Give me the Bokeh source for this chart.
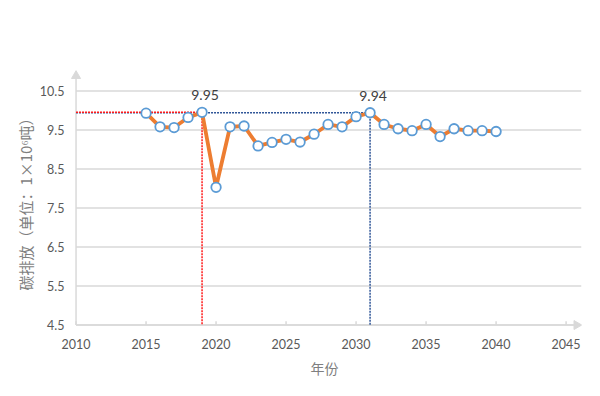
import math
from bokeh.plotting import figure
from bokeh.models import ColumnDataSource, Range1d, FixedTicker, Label
from bokeh.embed import file_html
from bokeh.resources import INLINE

# ---- data ----
years = list(range(2015, 2041))
emissions = [9.93, 9.58, 9.56, 9.82, 9.95, 8.03, 9.58, 9.60, 9.09, 9.18,
             9.26, 9.19, 9.39, 9.64, 9.58, 9.84, 9.94, 9.64, 9.53, 9.48,
             9.64, 9.33, 9.53, 9.48, 9.48, 9.46]
peak_years = [2019, 2031]
peak_values = [9.95, 9.94]
peak_labels = ["9.95", "9.94"]
peak_colors = ["#ff1a1a", "#2f5597"]
x_ticks = [2010, 2015, 2020, 2025, 2030, 2035, 2040, 2045]
y_ticks = [4.5, 5.5, 6.5, 7.5, 8.5, 9.5, 10.5]
x_title = "年份"
y_title = "碳排放（单位：1×10⁶吨）"
x_axis_min, x_axis_max = 2010, 2045.9
y_axis_min, y_axis_max = 4.5, 10.98
grid_end = 2046.1
tick_len = 0.1

AXIS_GREY = "#d9d9d9"
TICK_TXT = "#595959"
LABEL_TXT = "#7f7f7f"
FONT = "Lato"
CJK = "Noto Sans CJK SC"

p = figure(width=584, height=380, output_backend="svg", toolbar_location=None,
           x_range=Range1d(2009.39, 2046.1), y_range=Range1d(4.309, 11.074),
           min_border_left=67, min_border_right=3, min_border_top=68, min_border_bottom=47)
p.outline_line_color = None
p.background_fill_color = "white"
p.border_fill_color = "white"
p.xgrid.grid_line_color = None
p.ygrid.grid_line_color = None

# grid lines (start at the y axis)
p.segment(x0=[x_axis_min] * len(y_ticks), y0=y_ticks, x1=[grid_end] * len(y_ticks), y1=y_ticks,
          line_color=AXIS_GREY, line_width=1.5)

# axes (labels only; lines drawn as glyphs)
p.xaxis.ticker = FixedTicker(ticks=x_ticks)
p.yaxis.ticker = FixedTicker(ticks=y_ticks)
p.yaxis.major_label_overrides = {v: f"{v:.1f}" for v in y_ticks}
for ax in (p.xaxis[0], p.yaxis[0]):
    ax.axis_line_color = None
    ax.major_tick_line_color = None
    ax.minor_tick_line_color = None
    ax.major_tick_in = 0
    ax.major_tick_out = 0
    ax.major_label_text_color = TICK_TXT
    ax.major_label_text_font = FONT
    ax.major_label_text_font_size = "12.5px"
    ax.axis_label_text_color = LABEL_TXT
    ax.axis_label_text_font = CJK
    ax.axis_label_text_font_style = "normal"
p.xaxis.major_label_standoff = 6
p.yaxis.major_label_standoff = 3
p.xaxis.axis_label = x_title
p.xaxis.axis_label_text_font_size = "14px"
p.xaxis.axis_label_standoff = 6
p.yaxis.axis_label = y_title
p.yaxis.axis_label_text_font_size = "15px"
p.yaxis.axis_label_standoff = 1

# axis lines, inward ticks and arrow heads
p.line([x_axis_min, x_axis_min], [y_axis_min, y_axis_max], line_color=AXIS_GREY, line_width=1.5)
p.line([x_axis_min, x_axis_max], [y_axis_min, y_axis_min], line_color=AXIS_GREY, line_width=1.5)
p.segment(x0=x_ticks, y0=[y_axis_min] * len(x_ticks), x1=x_ticks,
          y1=[y_axis_min + tick_len] * len(x_ticks), line_color=AXIS_GREY, line_width=1.5)
p.scatter([x_axis_min], [10.885], marker="triangle", size=9, fill_color=AXIS_GREY, line_color=AXIS_GREY)
p.scatter([2045.75], [y_axis_min], marker="triangle", size=9, angle=-math.pi / 2,
          fill_color=AXIS_GREY, line_color=AXIS_GREY)

# peak guide lines (dotted)
for yr, val, col in zip(peak_years[::-1], peak_values[::-1], peak_colors[::-1]):
    p.line([x_axis_min, yr], [val, val], line_color=col, line_width=1.5, line_dash="2 1")
    p.line([yr, yr], [val, y_axis_min], line_color=col, line_width=1.5, line_dash="2 1")

src = ColumnDataSource(dict(x=years, y=emissions))
p.line("x", "y", source=src, line_color="#ed7d31", line_width=3.8)
p.scatter("x", "y", source=src, marker="circle", size=9.5, fill_color="white",
          line_color="#5b9bd5", line_width=1.8)

for yr, val, txt in zip(peak_years, peak_values, peak_labels):
    p.add_layout(Label(x=yr, y=val, text=txt, x_offset=3, y_offset=12,
                       text_align="center", text_baseline="bottom",
                       text_font=FONT, text_font_size="14px", text_color="#404040"))

open("out.html", "w").write(file_html(p, INLINE))
